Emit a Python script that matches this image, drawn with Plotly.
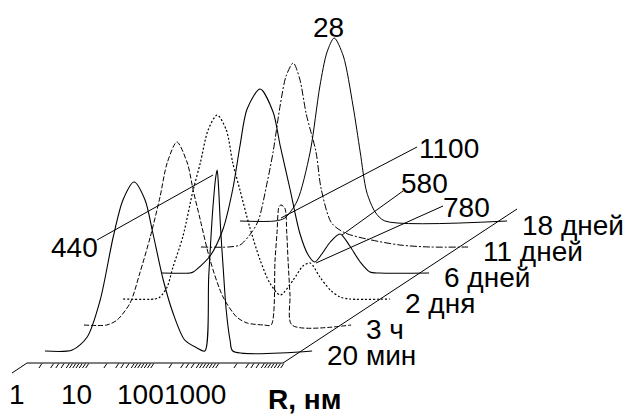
import plotly.graph_objects as go

# ---------------- data (lg R in decades, intensity in arbitrary units) ----------------
SERIES_NAMES = ["20 мин", "3 ч", "2 дня", "6 дней", "11 дней", "18 дней"]

LGR_20MIN = [-0.17, 0.25, 0.48, 0.68, 0.88, 1.03, 1.20, 1.37, 1.49, 1.65, 1.80, 1.98, 2.17,
             2.29, 2.35, 2.41, 2.46, 2.48, 2.50, 2.53, 2.57, 2.62, 2.68, 2.72, 3.94]
INT_20MIN = [0, 1, 14, 51, 114, 151, 169, 151, 118, 71, 38, 11, 3,
             0, 75, 140, 175, 181, 165, 125, 85, 40, 10, 0, 0]

LGR_3H = [-0.17, 0.18, 0.34, 0.54, 0.69, 0.85, 1.00, 1.11, 1.26, 1.42, 1.51, 1.62, 1.77, 1.97,
          2.18, 2.34, 2.60, 2.71, 2.77, 2.80, 2.83, 2.86, 2.92, 2.95, 2.97, 3.00, 3.03, 3.94]
INT_3H = [0, 0, 5, 22, 52, 88, 128, 162, 183, 162, 135, 105, 65, 28,
          8, 2, 0, 0, 65, 92, 118, 120, 117, 92, 65, 30, 0, 0]

LGR_2D = [-0.17, 0.32, 0.40, 0.51, 0.60, 0.75, 0.91, 1.02, 1.14, 1.28, 1.42, 1.52, 1.63, 1.78,
          1.94, 2.09, 2.25, 2.45, 2.60, 2.71, 2.86, 3.02, 3.17, 3.32, 3.94]
INT_2D = [0, 0, 2, 12, 32, 62, 109, 136, 169, 184, 169, 136, 109, 72,
          39, 16, 4, 19, 33, 36, 22, 9, 2, 0, 0]

LGR_6D = [-0.17, 0.26, 0.31, 0.57, 0.77, 0.92, 1.03, 1.14, 1.34, 1.54, 1.65, 1.80, 1.95,
          2.08, 2.18, 2.29, 2.42, 2.57, 2.72, 2.88, 3.03, 3.18, 3.94]
INT_6D = [0, 0, 1, 17, 44, 84, 127, 164, 184, 161, 127, 84, 40,
          18, 11, 19, 31, 39, 27, 11, 1, 0, 0]

LGR_11D = [-0.17, 0.25, 0.43, 0.58, 0.71, 0.85, 0.94, 1.05, 1.14, 1.25, 1.35, 1.45, 1.60,
           1.68, 1.84, 2.05, 2.38, 2.89, 3.35, 3.94]
INT_11D = [0, 0, 2, 12, 26, 65, 95, 142, 171, 184, 168, 133, 95,
           58, 24, 14, 8, 2, 0, 0]

LGR_18D = [-0.17, 0.37, 0.52, 0.71, 0.91, 1.06, 1.17, 1.28, 1.42, 1.57, 1.68, 1.78, 1.91, 2.06, 3.94]
INT_18D = [0, 0, 3, 20, 69, 135, 169, 183, 165, 115, 69, 29, 9, 0, 0]

TICK_LGR = [0, 1, 2, 3]
TICK_LABELS = ["1", "10", "100", "1000"]
AXIS_TITLE = "R, нм"
PEAK_LABELS = ["28", "1100", "580", "780", "440"]

SERIES_LGR = [LGR_20MIN, LGR_3H, LGR_2D, LGR_6D, LGR_11D, LGR_18D]
SERIES_INT = [INT_20MIN, INT_3H, INT_2D, INT_6D, INT_11D, INT_18D]

# ---------------- layout / styling ----------------
W, H = 627, 414
DEC_PX = 65.0          # pixels per decade
X0_PX = 40.0           # front-axis pixel of lg R = 0
Y0_PX = 363.0          # front-axis pixel row
FRONT_DU = 16 / DEC_PX  # first series offset along depth
FRONT_DV = 12
STEP_DU = 39 / DEC_PX   # depth step per series
STEP_DV = 26

DASHES = ["solid", "5px,2px", "2px,2px", "solid", "7px,2px,2px,2px", "solid"]
WIDTHS = [1.1, 1, 1.2, 1.1, 1, 1]
FONT = "Liberation Sans, Arial, sans-serif"
FS = 28

fig = go.Figure()

for i, (lg, it) in enumerate(zip(SERIES_LGR, SERIES_INT)):
    du = FRONT_DU + STEP_DU * i
    dv = FRONT_DV + STEP_DV * i
    fig.add_trace(go.Scatter(
        x=[v + du for v in lg], y=[v + dv for v in it], mode="lines",
        line=dict(color="black", width=WIDTHS[i], dash=DASHES[i], shape="spline", smoothing=0.8),
        name=SERIES_NAMES[i], hoverinfo="skip"))
    fig.add_annotation(x=max(lg) + du + 13 / DEC_PX, y=dv - 4, text=SERIES_NAMES[i],
                       xanchor="left", yanchor="middle", showarrow=False,
                       font=dict(family=FONT, size=FS, color="black"))

shapes = []
# floor / front axis
u_left = (27 - X0_PX) / DEC_PX
u_right = (283 - X0_PX) / DEC_PX
shapes.append(dict(type="path", path=f"M {(12 - X0_PX) / DEC_PX},-10 L {u_left},0 L {u_right},0 L {(517 - X0_PX) / DEC_PX},154",
                   line=dict(color="black", width=1)))
# hatches (stylised log ticks)
HATCH_FRAC = [0.03, 0.21, 0.29, 0.37, 0.45, 0.50, 0.55, 0.60, 0.65, 0.70, 0.75]
for k in TICK_LGR:
    for f in HATCH_FRAC:
        u = k + f
        shapes.append(dict(type="line", x0=u, y0=-0.5, x1=u - 3 / DEC_PX, y1=-5,
                           line=dict(color="black", width=1)))

# leader lines
LEADERS = [((0.877, 123), (2.662, 188)),
           ((5.80, 216), (3.708, 145)),
           ((5.585, 172), (4.646, 128)),
           ((6.20, 157), (4.246, 100))]
for (a, b) in LEADERS:
    shapes.append(dict(type="line", x0=a[0], y0=a[1], x1=b[0], y1=b[1],
                       line=dict(color="black", width=1)))

# tick labels
TICK_LABEL_DX = [-23, -29, -30, -40]
for k, lab, dx in zip(TICK_LGR, TICK_LABELS, TICK_LABEL_DX):
    fig.add_annotation(x=k + dx / DEC_PX, y=-31, text=lab, showarrow=False,
                       xanchor="center", yanchor="middle",
                       font=dict(family=FONT, size=FS, color="black"))
fig.add_annotation(x=(304 - X0_PX) / DEC_PX, y=-36, text=f"<b>{AXIS_TITLE}</b>", showarrow=False,
                   xanchor="center", yanchor="middle", font=dict(family=FONT, size=FS, color="black"))

PEAK_POS = [(4.446, 336), (6.292, 215), (5.908, 180), (6.554, 156), (0.538, 116)]
for lab, (u, v) in zip(PEAK_LABELS, PEAK_POS):
    fig.add_annotation(x=u, y=v, text=lab, showarrow=False, xanchor="center", yanchor="middle",
                       font=dict(family=FONT, size=FS, color="black"))

fig.update_layout(
    width=W, height=H, margin=dict(l=0, r=0, t=0, b=0, pad=0),
    paper_bgcolor="white", plot_bgcolor="white", showlegend=False,
    shapes=shapes,
    xaxis=dict(range=[-X0_PX / DEC_PX, (W - X0_PX) / DEC_PX], visible=False, fixedrange=True),
    yaxis=dict(range=[Y0_PX - H, Y0_PX], visible=False, fixedrange=True),
)
fig.write_html("out.html", config={"staticPlot": True},
               post_script="document.body.style.margin='0';document.body.style.overflow='hidden';")
